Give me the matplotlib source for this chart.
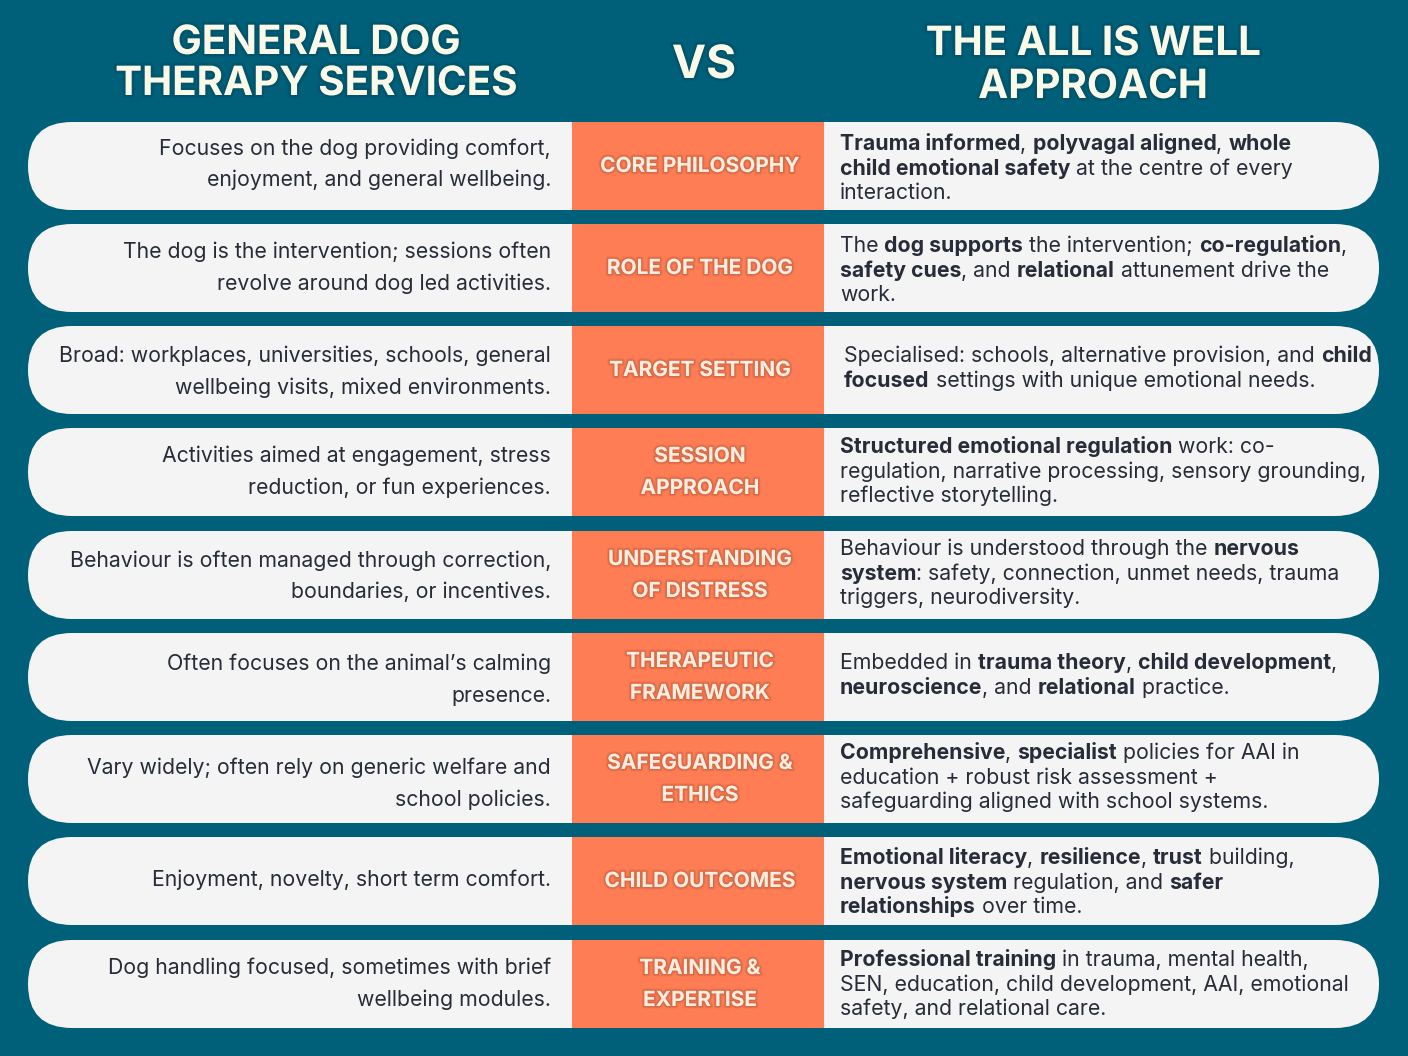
import matplotlib
matplotlib.use("Agg")
import matplotlib.pyplot as plt
from matplotlib.patches import FancyBboxPatch, Rectangle
from matplotlib.font_manager import FontProperties
import matplotlib.patheffects as pe

FAMILY = "Inter"
TEAL, PILL, ORANGE, DARK, CREAM, CAT = "#00607a", "#f4f4f4", "#ff7d55", "#272c38", "#fbf9e8", "#fcefe2"

left_title = ["GENERAL DOG", "THERAPY SERVICES"]
mid_title = "VS"
right_title = ["THE ALL IS WELL", "APPROACH"]

categories = [
    ["CORE PHILOSOPHY"], ["ROLE OF THE DOG"], ["TARGET SETTING"],
    ["SESSION", "APPROACH"], ["UNDERSTANDING", "OF DISTRESS"], ["THERAPEUTIC", "FRAMEWORK"],
    ["SAFEGUARDING &", "ETHICS"], ["CHILD OUTCOMES"], ["TRAINING &", "EXPERTISE"],
]
general = [
    ["Focuses on the dog providing comfort,", "enjoyment, and general wellbeing."],
    ["The dog is the intervention; sessions often", "revolve around dog led activities."],
    ["Broad: workplaces, universities, schools, general", "wellbeing visits, mixed environments."],
    ["Activities aimed at engagement, stress", "reduction, or fun experiences."],
    ["Behaviour is often managed through correction,", "boundaries, or incentives."],
    ["Often focuses on the animal\u2019s calming", "presence."],
    ["Vary widely; often rely on generic welfare and", "school policies."],
    ["Enjoyment, novelty, short term comfort."],
    ["Dog handling focused, sometimes with brief", "wellbeing modules."],
]
# ** toggles bold within a line
allwell = [
    ["**Trauma informed**, **polyvagal aligned**, **whole", "child emotional safety** at the centre of every", "interaction."],
    ["The **dog supports** the intervention; **co-regulation**,", "**safety cues**, and **relational** attunement drive the", "work."],
    ["Specialised: schools, alternative provision, and **child", "focused** settings with unique emotional needs."],
    ["**Structured emotional regulation** work: co-", "regulation, narrative processing, sensory grounding,", "reflective storytelling."],
    ["Behaviour is understood through the **nervous", "system**: safety, connection, unmet needs, trauma", "triggers, neurodiversity."],
    ["Embedded in **trauma theory**, **child development**,", "**neuroscience**, and **relational** practice."],
    ["**Comprehensive**, **specialist** policies for AAI in", "education + robust risk assessment +", "safeguarding aligned with school systems."],
    ["**Emotional literacy**, **resilience**, **trust** building,", "**nervous system** regulation, and **safer", "relationships** over time."],
    ["**Professional training** in trauma, mental health,", "SEN, education, child development, AAI, emotional", "safety, and relational care."],
]

# layout (pixels)
W, H = 1408, 1056
row_tops = [122, 224, 326, 428, 531, 633, 735, 837, 940]
ROW_H = 88
left_first = [155, 258, 362, 462, 567, 670, 774, 886, 974]
right_first = [150, 252, 362, 453, 555, 669, 759, 864, 966]
right_x = [840, 840, 844, 840, 840, 840, 840, 840, 840]

fig = plt.figure(figsize=(W / 100, H / 100), dpi=100, facecolor=TEAL)
ax = fig.add_axes([0, 0, 1, 1])
ax.set_xlim(0, W); ax.set_ylim(H, 0); ax.axis("off")
rend = fig.canvas.get_renderer()

reg = FontProperties(family=FAMILY, size=15.3, weight="normal")
bold = FontProperties(family=FAMILY, size=15.3, weight="bold")

def adv(s, fp):
    w1 = rend.get_text_width_height_descent(s + "|", fp, False)[0]
    w0 = rend.get_text_width_height_descent("|", fp, False)[0]
    return w1 - w0

def rich(x, y, line, is_bold=False, size=None):
    parts = line.split("**")
    for i, part in enumerate(parts):
        if not part:
            continue
        b = is_bold ^ (i % 2 == 1)
        fp = bold if b else reg
        ax.text(x, y, part, fontproperties=fp, color=DARK, ha="left", va="baseline")
        x += adv(part, fp)
    return is_bold ^ (len(parts) % 2 == 0)

shadow = [pe.Stroke(linewidth=5, foreground="#00303f", alpha=0.10),
          pe.Stroke(linewidth=3, foreground="#00303f", alpha=0.15), pe.Normal()]
cat_shadow = [pe.Stroke(linewidth=3.5, foreground="#a04a2c", alpha=0.18),
              pe.Stroke(linewidth=2, foreground="#a04a2c", alpha=0.22), pe.Normal()]

for (lines, xc, ys) in [(left_title, 316, [54, 95]), (right_title, 1093, [55, 98])]:
    for s, y in zip(lines, ys):
        ax.text(xc, y, s, family=FAMILY, weight="bold", size=29, color=CREAM, ha="center",
                va="baseline", path_effects=shadow)
ax.text(704, 78, mid_title, family=FAMILY, weight="bold", size=33, color=CREAM, ha="center",
        va="baseline", path_effects=shadow)

for i, top in enumerate(row_tops):
    ax.add_patch(FancyBboxPatch((28, top), 1351, ROW_H, boxstyle="round,pad=0,rounding_size=44",
                                fc=PILL, ec="none", mutation_aspect=1))
    ax.add_patch(Rectangle((572, top), 252, ROW_H, fc=ORANGE, ec="none"))
    cy = top + ROW_H / 2
    cl = categories[i]
    for k, s in enumerate(cl):
        y = cy + 6 if len(cl) == 1 else cy + 6 + (k - 0.5) * 32
        ax.text(700, y, s, family=FAMILY, weight="bold", size=15, color=CAT, ha="center",
                va="baseline", path_effects=cat_shadow)
    for k, s in enumerate(general[i]):
        ax.text(551, left_first[i] + k * 31.5, s, fontproperties=reg, color=DARK, ha="right", va="baseline")
    state = False
    spacing = 25 if i != 2 else 25
    for k, s in enumerate(allwell[i]):
        state = rich(right_x[i], right_first[i] + k * 24.6, s, state)

fig.savefig("out.png", dpi=100, facecolor=TEAL)
